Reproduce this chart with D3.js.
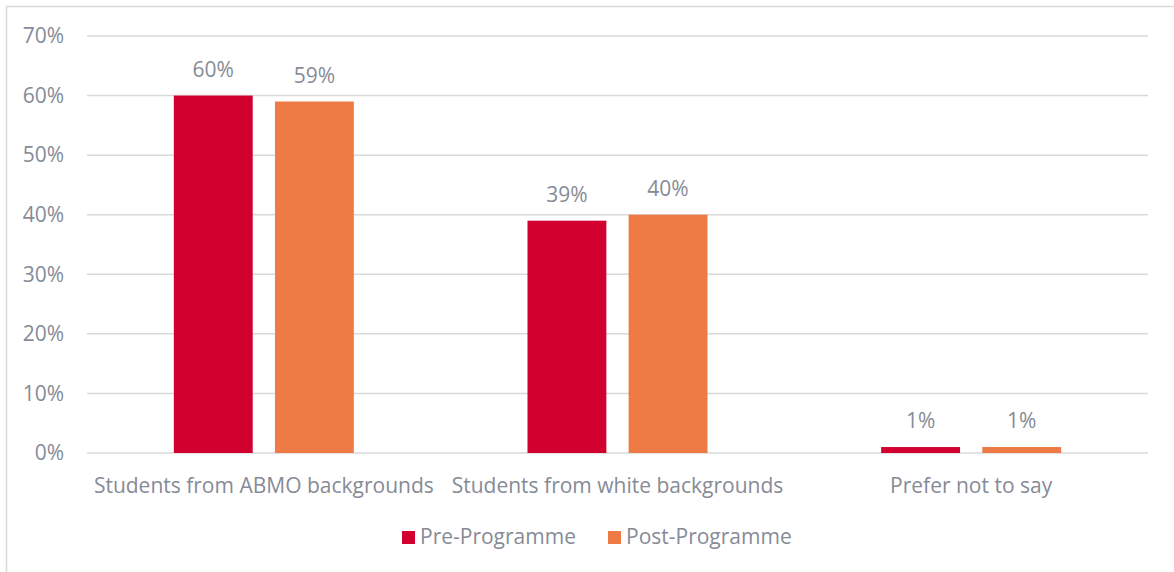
<!DOCTYPE html>
<html>
<head>
<meta charset="utf-8">
<script src="https://cdn.jsdelivr.net/npm/d3@7"></script>
<style>
  body { margin: 0; background: #fff; }
  svg { display: block; }
</style>
</head>
<body>
<script>
// Chart data
const categories = ["Students from ABMO backgrounds", "Students from white backgrounds", "Prefer not to say"];
const seriesNames = ["Pre-Programme", "Post-Programme"];
const preValues = [60, 39, 1];
const postValues = [59, 40, 1];
const yTicks = [0, 10, 20, 30, 40, 50, 60, 70];

const colors = ["#d2002e", "#ee7b45"];
const textColor = "#868b96";
const fontFamily = "'Open Sans', sans-serif";
const fontSize = "21px";

const W = 1174, H = 572;
const margin = { top: 36, right: 26, bottom: 119, left: 87 };
const innerW = W - margin.left - margin.right;
const innerH = H - margin.top - margin.bottom;

const svg = d3.select("body").append("svg")
  .attr("width", W)
  .attr("height", H);

// Outer chart border
svg.append("rect")
  .attr("x", 6.5).attr("y", 6.5)
  .attr("width", W + 10).attr("height", H + 10)
  .attr("fill", "none")
  .attr("stroke", "#d9d9d9")
  .attr("stroke-width", 1.5);

const g = svg.append("g")
  .attr("transform", `translate(${margin.left},${margin.top})`);

// Scales
const x0 = d3.scaleBand()
  .domain(categories)
  .range([0, innerW]);

const x1 = d3.scaleBand()
  .domain(seriesNames)
  .range([0, 180])
  .paddingInner(0.22);

const y = d3.scaleLinear()
  .domain([0, 70])
  .range([innerH, 0]);

// Gridlines
g.selectAll(".grid")
  .data(yTicks)
  .enter().append("line")
  .attr("x1", 0).attr("x2", innerW)
  .attr("y1", d => y(d)).attr("y2", d => y(d))
  .attr("stroke", "#d9d9d9")
  .attr("stroke-width", 1.5);

// Y tick labels
g.selectAll(".ytick")
  .data(yTicks)
  .enter().append("text")
  .attr("x", -23)
  .attr("y", d => y(d))
  .attr("dy", "0.35em")
  .attr("text-anchor", "end")
  .attr("fill", textColor)
  .style("font-family", fontFamily)
  .style("font-size", fontSize)
  .text(d => d + "%");

// Bars
const rows = categories.map((c, i) => ({ cat: c, vals: [preValues[i], postValues[i]] }));

const groups = g.selectAll(".group")
  .data(rows)
  .enter().append("g")
  .attr("transform", d => `translate(${x0(d.cat) + x0.bandwidth() / 2 - 90},0)`);

groups.selectAll("rect")
  .data(d => d.vals.map((v, j) => ({ name: seriesNames[j], v: v, j: j })))
  .enter().append("rect")
  .attr("x", d => x1(d.name))
  .attr("width", x1.bandwidth())
  .attr("y", d => y(d.v))
  .attr("height", d => y(0) - y(d.v))
  .attr("fill", d => colors[d.j]);

// Data labels
groups.selectAll(".label")
  .data(d => d.vals.map((v, j) => ({ name: seriesNames[j], v: v })))
  .enter().append("text")
  .attr("x", d => x1(d.name) + x1.bandwidth() / 2)
  .attr("y", d => y(d.v) - 19)
  .attr("text-anchor", "middle")
  .attr("fill", textColor)
  .style("font-family", fontFamily)
  .style("font-size", fontSize)
  .text(d => d.v + "%");

// Category labels
g.selectAll(".xlabel")
  .data(categories)
  .enter().append("text")
  .attr("x", d => x0(d) + x0.bandwidth() / 2)
  .attr("y", innerH + 40)
  .attr("text-anchor", "middle")
  .attr("fill", textColor)
  .style("font-family", fontFamily)
  .style("font-size", fontSize)
  .text(d => d);

// Legend
const legend = svg.append("g")
  .attr("transform", "translate(402,537)");

const legendX = [0, 206];
seriesNames.forEach((name, i) => {
  legend.append("rect")
    .attr("x", legendX[i])
    .attr("y", -6)
    .attr("width", 13).attr("height", 13)
    .attr("fill", colors[i]);
  legend.append("text")
    .attr("x", legendX[i] + 18)
    .attr("y", 0)
    .attr("dy", "0.35em")
    .attr("fill", textColor)
    .style("font-family", fontFamily)
    .style("font-size", fontSize)
    .text(name);
});
</script>
</body>
</html>
